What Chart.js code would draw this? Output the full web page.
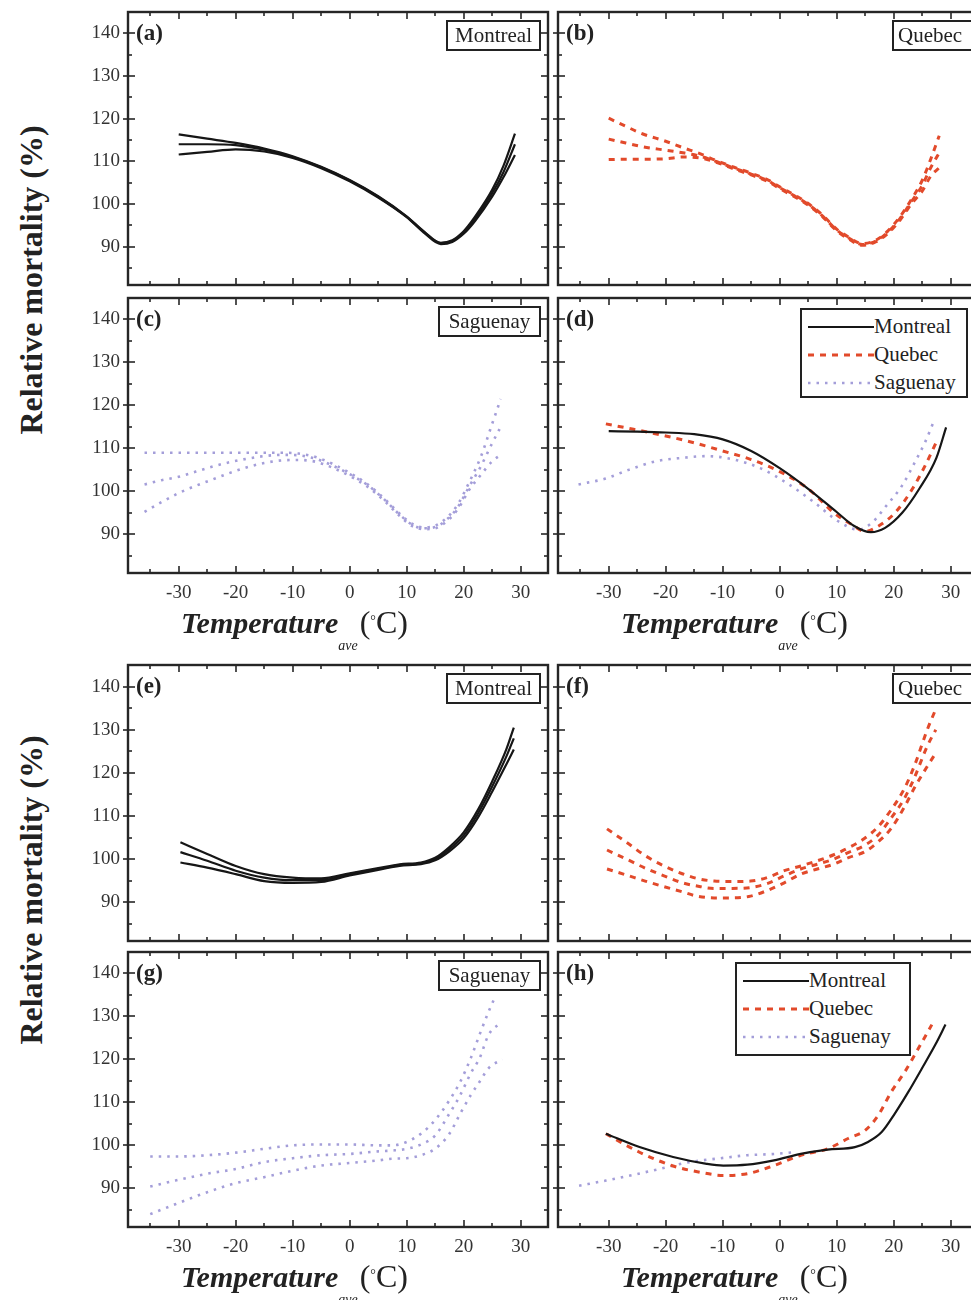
<!DOCTYPE html>
<html><head><meta charset="utf-8">
<script src="https://cdn.jsdelivr.net/npm/chart.js@4.4.1/dist/chart.umd.min.js"></script>
<style>
html,body{margin:0;padding:0;background:#fff;}
body{width:971px;height:1300px;overflow:hidden;position:relative;font-family:"Liberation Serif","Times New Roman",serif;color:#222;}
canvas{position:absolute;}
.txt{position:absolute;white-space:nowrap;z-index:5;}
.ytitle{font-size:32px;font-weight:bold;transform:translate(-50%,-50%) rotate(-90deg);}
.plab{font-size:23px;font-weight:bold;line-height:23px;}
.city{border:2px solid #222;font-size:21px;line-height:27px;text-align:center;background:#fff;box-sizing:border-box;height:31px;}
.city.qc{text-align:left;padding-left:4px;}
.xt{font-size:30px;line-height:32px;}
.xt .tm{font-weight:bold;font-style:italic;}
.xt .sub{font-style:italic;font-size:14px;position:relative;top:17px;margin-left:0px;}
.xt .unit{font-size:32px;margin-left:2px;}
.xt sup{font-size:14px;vertical-align:top;position:relative;top:-1px;}
.leg{border:2px solid #222;background:#fff;box-sizing:border-box;font-size:21px;}
.leg .row{position:absolute;left:0;height:28px;line-height:28px;}
.leg svg{position:absolute;top:13px;}
.leg span{position:absolute;}
</style></head>
<body>
<script>
// ---------- tick label arrays ----------
const xTickVals = [-30, -20, -10, 0, 10, 20, 30];
const xMinorVals = [-35, -25, -15, -5, 5, 15, 25];
const yTickVals = [90, 100, 110, 120, 130, 140];
const yMinorVals = [85, 95, 105, 115, 125, 135];
const cityNames = ["Montreal", "Quebec", "Saguenay"];
const panelLetters = ["(a)","(b)","(c)","(d)","(e)","(f)","(g)","(h)"];

// ---------- (a) Montreal ----------
const aTemp  = [-30,-25,-20,-15,-10,-5,0,5,10,13,16,18,20,22,25,27,29];
const aUpper = [116.3,115.3,114.3,113,111.2,108.7,105.6,101.8,97.1,93.6,90.9,91.5,93.6,97,103.3,109,116.5];
const aMid   = [114,114,113.8,112.7,111,108.6,105.5,101.7,97,93.5,90.8,91.3,93.3,96.5,102.5,107.5,114];
const aLower = [111.6,112.2,112.8,112.3,110.8,108.4,105.3,101.5,96.9,93.3,90.6,91.1,93,96,101.7,106.3,111.5];

// ---------- (b) Quebec ----------
const bTemp  = [-30,-27,-24,-20,-17,-14,-11,-8,-5,-2,0,3,5,7.5,10,12,14.5,17,19,21,23,25,26.5,28];
const bUpper = [120.1,118.2,116.4,114.7,113.2,111.8,110.1,108.6,107.2,105.6,104,101.8,100.1,97.4,94.1,92.3,90.7,91.6,93.7,96.8,100.8,105.5,110.5,116];
const bMid   = [115.2,114.3,113.4,112.6,112,111.2,109.9,108.4,107,105.4,103.8,101.6,99.9,97.2,93.9,92.1,90.5,91.4,93.4,96.4,100.3,104.3,108.5,112];
const bLower = [110.4,110.5,110.5,110.6,111,110.8,109.7,108.2,106.8,105.2,103.6,101.4,99.7,97,93.7,91.9,90.3,91.2,93.1,96,99.8,103,106.5,108.5];

// ---------- (c) Saguenay ----------
const cTemp  = [-36,-33,-30,-27,-24,-21,-18,-15,-12,-9,-6,-3,0,3,6,9,11,13,15,17,19,21,23,25,26.5];
const cUpper = [109,109,109,109,109,109,109,109,109,108.8,108,106.4,104.3,101.8,98.4,94.5,92.4,91.6,92,93.8,97,102.2,108,115.7,121.5];
const cMid   = [101.6,102.6,103.4,104.6,105.8,106.8,107.6,108.2,108.5,108.4,107.6,106,104,101.6,98.2,94.3,92.2,91.4,91.7,93.4,96.4,101.2,105.8,111.2,115];
const cLower = [95.2,97.5,99.6,101.3,102.8,104.3,105.6,106.6,107.2,107.3,106.9,105.5,103.6,101.2,97.9,94,91.9,91.2,91.4,93,95.9,100.4,103.8,107,108.5];

// ---------- (d) all cities ----------
const dMtlTemp = [-30,-25,-20,-15,-10,-5,0,5,10,13,16,18.5,21.5,24.5,27.5,29.2];
const dMtl     = [114,113.9,113.7,113.3,112.1,109.4,105.4,100.6,95.2,92,90.5,91.5,95,100.6,107.8,114.9];
const dQcTemp  = [-30.5,-27,-20,-15,-10,-5,0,5,9.6,12.6,15,17.3,20.3,23.3,25.6,27.5];
const dQc      = [115.7,114.8,112.9,111.3,109.4,107.4,104.6,100.6,94.9,92.3,90.7,91.9,95.1,100.6,106.2,111.5];
const dSagTemp = [-35.3,-30.5,-26.5,-21.7,-17,-12.8,-8,-3.4,1.4,6,10.2,13.8,16.2,18.5,21.5,23.8,25.6,27.1];
const dSag     = [101.6,103,105,107,107.8,108.2,107.4,105.4,101.8,97.5,93.1,91.1,92.7,96.3,101.4,107,111.7,116.5];

// ---------- (e) Montreal ----------
const eTemp  = [-29.7,-25,-20,-15,-10,-5,0,5,8.75,12.5,15,17.5,20,22.5,25,27.5,28.8];
const eUpper = [103.9,101.2,98.4,96.5,95.7,95.5,96.7,97.9,98.8,99.2,100.3,102.8,106.2,111.4,118,125.5,130.5];
const eMid   = [101.6,99.6,97.3,95.7,95.1,95.1,96.5,97.7,98.6,99,100,102.3,105.5,110.5,116.8,123.8,128];
const eLower = [99.2,98,96.5,94.9,94.5,94.7,96.2,97.5,98.4,98.8,99.7,101.8,104.8,109.6,115.6,122,125.4];

// ---------- (f) Quebec ----------
const fTemp  = [-30.3,-26.9,-23.6,-20.3,-17.1,-14.5,-11.5,-8.3,-5.1,-2.2,0.8,3.7,6.6,9.5,12.2,14.8,17.2,19.5,21.9,23.6,25.9,27.4];
const fUpper = [107,103.9,100.8,98.4,96.6,95.5,94.9,94.8,94.9,95.7,97.3,98.4,99.6,101,102.7,104.7,107.4,111.3,116.4,121.5,130,134.8];
const fMid   = [102.1,100,97.9,96.1,94.5,93.75,93.2,93.2,93.4,94.3,96.1,97.7,98.8,100,101.6,103.1,105.5,109.4,114.1,118.75,126.2,130];
const fLower = [97.7,96.3,94.9,93.6,92.4,91.4,91,91,91.4,92.7,94.5,96.5,97.7,98.8,100.4,101.6,103.9,107,112.1,116.4,121.5,124.6];

// ---------- (g) Saguenay ----------
const gUpperTemp = [-35,-30.6,-25,-20,-15,-10,-5,0,5,7.5,10,12.5,15,17.5,19.4,21.25,22.8,24.4,25.5];
const gUpper     = [97.4,97.4,97.7,98.3,99.2,100,100.2,100.2,100,100,100.8,102.7,105.9,110.5,114.8,120.3,125.8,131.2,134.5];
const gMidTemp   = [-35,-30.6,-25,-20,-15,-10,-5,0,5,7.5,10,12.5,15,17.5,19.4,21.25,22.8,24.4,26.5];
const gMid       = [90.4,91.8,93.4,94.5,96.1,97,97.7,98,98.6,98.8,99.2,100.2,102.3,107.4,111.7,116.8,120.3,125.8,128.5];
const gLowerTemp = [-35,-30.6,-25,-20,-15,-10,-5,0,5,7.5,10,12.5,15,17.5,19.4,21.25,22.8,24.4,26.8];
const gLower     = [84,86.3,89.1,91.2,92.6,94.1,95.3,95.9,96.5,96.9,97,97.7,99.2,102.7,107.4,111.7,114.8,118,120];

// ---------- (h) all cities ----------
const hMtlTemp = [-30.5,-24.6,-18.7,-12.8,-9.9,-5.7,-1,3.7,8.4,13.2,15.5,17.9,20.2,22.6,25,27.3,29.1];
const hMtl     = [102.7,99.6,97.3,95.7,95.3,95.5,96.5,98,99,99.6,100.8,103.1,107.4,112.5,118,123.4,128.1];
const hQcTemp  = [-30.5,-24.6,-18.7,-14,-9.9,-5.7,-1,3.7,8.4,12,15,17.3,19.6,22,24.4,26.7];
const hQc      = [102.7,98.4,95.2,93.75,93,93.4,95.3,97.7,99.2,101.6,103.5,107,112.5,117.2,122.7,128.1];
const hSagTemp = [-35.2,-30.5,-25.8,-21.1,-15.8,-10.4,-5.7,-1,2.5];
const hSag     = [90.6,91.8,93.1,94.5,96.1,97,97.7,98,98.4];

// ---------- styles ----------
const STY = {
  Montreal: {borderColor:'#161616', borderWidth:2.2, borderDash:[]},
  Quebec:   {borderColor:'#e24a2b', borderWidth:3, borderDash:[6,6]},
  Saguenay: {borderColor:'#a49ed9', borderWidth:2.6, borderDash:[2.5,6]}
};
function ds(xs, ys, city){
  return Object.assign({label:city, data: xs.map((x,i)=>({x:x, y:ys[i]})), fill:false, pointRadius:0,
    cubicInterpolationMode:'monotone'}, STY[city]);
}

const X_MIN=-38.9, X_MAX=34.8, Y_MIN=81, Y_MAX=145;

const panels = [
  {left:128, top:12,  h:273, yLab:true,  xLab:false, city:'Montreal', sets:[ds(aTemp,aUpper,'Montreal'),ds(aTemp,aMid,'Montreal'),ds(aTemp,aLower,'Montreal')]},
  {left:558, top:12,  h:273, yLab:false, xLab:false, city:'Quebec', sets:[ds(bTemp,bUpper,'Quebec'),ds(bTemp,bMid,'Quebec'),ds(bTemp,bLower,'Quebec')]},
  {left:128, top:298, h:275, yLab:true,  xLab:true,  city:'Saguenay', sets:[ds(cTemp,cUpper,'Saguenay'),ds(cTemp,cMid,'Saguenay'),ds(cTemp,cLower,'Saguenay')]},
  {left:558, top:298, h:275, yLab:false, xLab:true,  legend:true, sets:[ds(dMtlTemp,dMtl,'Montreal'),ds(dQcTemp,dQc,'Quebec'),ds(dSagTemp,dSag,'Saguenay')]},
  {left:128, top:665, h:276, yLab:true,  xLab:false, city:'Montreal', sets:[ds(eTemp,eUpper,'Montreal'),ds(eTemp,eMid,'Montreal'),ds(eTemp,eLower,'Montreal')]},
  {left:558, top:665, h:276, yLab:false, xLab:false, city:'Quebec', sets:[ds(fTemp,fUpper,'Quebec'),ds(fTemp,fMid,'Quebec'),ds(fTemp,fLower,'Quebec')]},
  {left:128, top:952, h:275, yLab:true,  xLab:true,  city:'Saguenay', sets:[ds(gUpperTemp,gUpper,'Saguenay'),ds(gMidTemp,gMid,'Saguenay'),ds(gLowerTemp,gLower,'Saguenay')]},
  {left:558, top:952, h:275, yLab:false, xLab:true,  legend:true, sets:[ds(hMtlTemp,hMtl,'Montreal'),ds(hQcTemp,hQc,'Quebec'),ds(hSagTemp,hSag,'Saguenay')]}
];
const PW = 420;

const framePlugin = {
  id:'frame',
  afterDraw(chart){
    const {ctx, chartArea:a, scales:{x, y}} = chart;
    ctx.save();
    ctx.strokeStyle = '#262626';
    ctx.lineWidth = 1.6;
    const seg = (x1,y1,x2,y2)=>{ctx.beginPath();ctx.moveTo(x1,y1);ctx.lineTo(x2,y2);ctx.stroke();};
    const xt = (v,L)=>{const p=Math.round(x.getPixelForValue(v));if(p<=a.left+2||p>=a.right-2)return;seg(p,a.bottom,p,a.bottom-L);seg(p,a.top,p,a.top+L);};
    const yt = (v,L,out)=>{const p=Math.round(y.getPixelForValue(v));if(p<=a.top+2||p>=a.bottom-2)return;seg(a.left-out,p,a.left+L,p);seg(a.right,p,a.right-L,p);};
    xTickVals.forEach(v=>xt(v,7)); xMinorVals.forEach(v=>xt(v,4));
    yTickVals.forEach(v=>yt(v,7,5)); yMinorVals.forEach(v=>yt(v,4,0));
    ctx.lineWidth = 2.4;
    ctx.strokeRect(a.left, a.top, a.right-a.left, a.bottom-a.top);
    ctx.restore();
  }
};

Chart.defaults.font.family = '"Liberation Serif","Times New Roman",serif';
Chart.defaults.font.size = 19;
Chart.defaults.color = '#333';

panels.forEach((p, i)=>{
  const ML = p.yLab ? 60 : 8, MT = 4, MR = 4, MB = p.xLab ? 40 : 4;
  const cv = document.createElement('canvas');
  cv.width = PW + ML + MR; cv.height = p.h + MT + MB;
  cv.style.left = (p.left - ML) + 'px'; cv.style.top = (p.top - MT) + 'px';
  cv.style.width = cv.width + 'px'; cv.style.height = cv.height + 'px';
  document.body.appendChild(cv);
  new Chart(cv, {
    type:'line',
    data:{datasets:p.sets},
    options:{
      responsive:false, animation:false, devicePixelRatio:1,
      layout:{autoPadding:false, padding:{top:MT, right:MR, left:0, bottom:0}},
      plugins:{legend:{display:false}, tooltip:{enabled:false}},
      elements:{point:{radius:0}, line:{tension:0.4}},
      scales:{
        x:{type:'linear', min:X_MIN, max:X_MAX, position:'bottom',
           grid:{display:false, drawTicks:false}, border:{display:false},
           ticks:{display:p.xLab, padding:9, autoSkip:false, maxRotation:0},
           afterBuildTicks:s=>{s.ticks = xTickVals.map(v=>({value:v}));},
           afterFit:s=>{s.height = MB; s.paddingLeft = 0; s.paddingRight = 0;}},
        y:{type:'linear', min:Y_MIN, max:Y_MAX, position:'left',
           grid:{display:false, drawTicks:false}, border:{display:false},
           ticks:{display:p.yLab, padding:8, autoSkip:false},
           afterBuildTicks:s=>{s.ticks = yTickVals.map(v=>({value:v}));},
           afterFit:s=>{s.width = ML; s.paddingTop = 0; s.paddingBottom = 0;}}
      }
    },
    plugins:[framePlugin]
  });

  // panel letter
  const lab = document.createElement('div');
  lab.className = 'txt plab';
  lab.textContent = panelLetters[i];
  lab.style.left = (p.left + 8) + 'px'; lab.style.top = (p.top + 9) + 'px';
  document.body.appendChild(lab);

  // city box
  if (p.city){
    const b = document.createElement('div');
    b.className = 'txt city';
    b.textContent = p.city;
    let w = p.city === 'Saguenay' ? 103 : 95, bl = p.left + PW - 7 - w;
    if (p.city === 'Quebec') { w = 92; bl = p.left + 334; b.className += ' qc'; }
    b.style.width = w + 'px';
    b.style.left = bl + 'px';
    b.style.top = (p.top + 8) + 'px';
    document.body.appendChild(b);
  }
  // legend box
  if (p.legend){
    const L = document.createElement('div');
    L.className = 'txt leg';
    const isD = i === 3;
    const lw = isD ? 168 : 176, lh = isD ? 90 : 94;
    L.style.width = lw + 'px'; L.style.height = lh + 'px';
    L.style.left = (isD ? p.left + 242 : p.left + 177) + 'px';
    L.style.top = (p.top + 10) + 'px';
    cityNames.forEach((c, k)=>{
      const row = document.createElement('div');
      row.className = 'row';
      row.style.top = (2 + k*28) + 'px';
      const st = STY[c];
      row.innerHTML = '<svg width="66" height="4" style="left:6px"><line x1="0" y1="2" x2="66" y2="2" stroke="'+st.borderColor+'" stroke-width="'+st.borderWidth+'" stroke-dasharray="'+(st.borderDash.length?st.borderDash.join(','):'none')+'"/></svg><span style="left:72px">'+c+'</span>';
      L.appendChild(row);
    });
    document.body.appendChild(L);
  }
});

// axis titles
function addYTitle(cy){
  const d = document.createElement('div');
  d.className = 'txt ytitle';
  d.textContent = 'Relative mortality (%)';
  d.style.left = '31px'; d.style.top = cy + 'px';
  document.body.appendChild(d);
}
addYTitle(280); addYTitle(890);
function addXTitle(left, top){
  const d = document.createElement('div');
  d.className = 'txt xt';
  d.innerHTML = '<span class="tm">Temperature</span><span class="sub">ave</span><span class="unit">(<sup>°</sup>C)</span>';
  d.style.left = left + 'px'; d.style.top = top + 'px';
  document.body.appendChild(d);
}
addXTitle(181, 606); addXTitle(621, 606);
addXTitle(181, 1260); addXTitle(621, 1260);
</script>
</body></html>
